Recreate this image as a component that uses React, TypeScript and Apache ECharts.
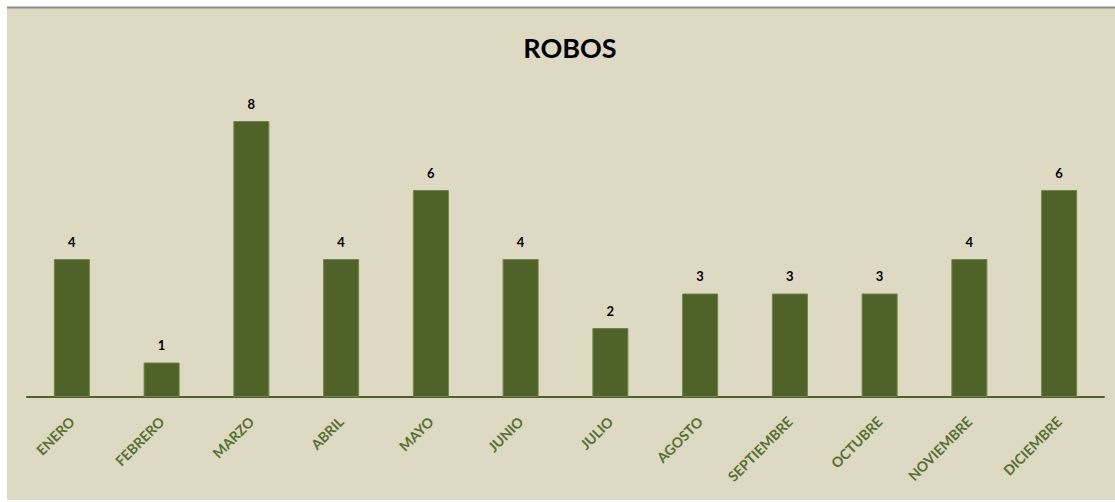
import React, { useEffect, useRef } from "react";
import * as echarts from "echarts";

const title = "ROBOS";
const months = ["ENERO", "FEBRERO", "MARZO", "ABRIL", "MAYO", "JUNIO", "JULIO", "AGOSTO", "SEPTIEMBRE", "OCTUBRE", "NOVIEMBRE", "DICIEMBRE"];
const robos = [4, 1, 8, 4, 6, 4, 2, 3, 3, 3, 4, 6];

export default function App() {
  const ref = useRef<HTMLDivElement>(null);
  useEffect(() => {
    const chart = echarts.init(ref.current!, null, { renderer: "svg" });
    chart.setOption({
      animation: false,
      backgroundColor: "#ffffff",
      graphic: [
        { type: "rect", shape: { x: 7, y: 7, width: 1108, height: 493 }, style: { fill: "#DDD9C3" }, z: -10 },
        { type: "line", shape: { x1: 7, y1: 7.5, x2: 1115, y2: 7.5 }, style: { stroke: "#8c8c8c", lineWidth: 2 }, z: -9 },
      ],
      title: {
        text: title,
        left: 565,
        textAlign: "center",
        top: 29,
        textStyle: { fontFamily: "Lato", fontWeight: "bold", fontSize: 27, color: "#000" },
      },
      grid: { left: 27, right: 11, top: 86.5, bottom: 105, containLabel: false },
      xAxis: {
        type: "category",
        data: months,
        axisLine: { lineStyle: { color: "#4F6228", width: 2 } },
        axisTick: { show: false },
        axisLabel: {
          rotate: 45,
          interval: 0,
          margin: 22,
          color: "#56702F",
          fontFamily: "Lato",
          fontWeight: "bold",
          fontSize: 14,
        },
      },
      yAxis: {
        type: "value",
        min: 0,
        max: 9,
        show: false,
        splitLine: { show: false },
      },
      series: [
        {
          type: "bar",
          data: robos,
          barWidth: 36,
          itemStyle: { color: "#4F6228", borderColor: "#6E8449", borderWidth: 1 },
          label: {
            show: true,
            position: "top",
            distance: 11,
            color: "#000",
            fontFamily: "Lato",
            fontWeight: "bold",
            fontSize: 13,
          },
        },
      ],
    });
    return () => chart.dispose();
  }, []);
  return <div ref={ref} style={{ position: "fixed", left: 0, top: 0, width: 1115, height: 502 }} />;
}
